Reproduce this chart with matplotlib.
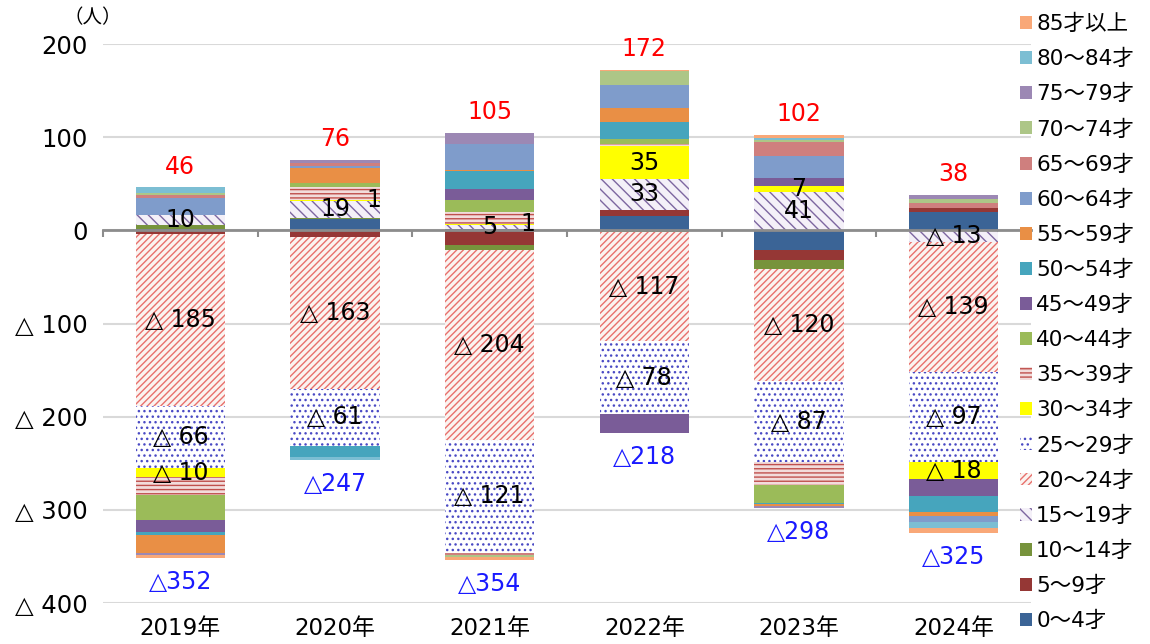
import matplotlib
matplotlib.use("Agg")
import matplotlib.pyplot as plt
import numpy as np

plt.rcParams['font.family'] = ['DejaVu Sans', 'Noto Sans CJK JP']
plt.rcParams['hatch.linewidth'] = 1.0

years = ["2019年", "2020年", "2021年", "2022年", "2023年", "2024年"]
ages = ["0～4才", "5～9才", "10～14才", "15～19才", "20～24才", "25～29才",
        "30～34才", "35～39才", "40～44才", "45～49才", "50～54才", "55～59才",
        "60～64才", "65～69才", "70～74才", "75～79才", "80～84才", "85才以上"]

# net change by age group (negative = decrease), per year
age_0_4 = [1, 12, 1, 15, -21, 20]
age_5_9 = [-4, -7, -16, 7, -11, 4]
age_10_14 = [5, 1, -5, -2, -10, 0]
age_15_19 = [10, 19, 5, 33, 41, -13]
age_20_24 = [-185, -163, -204, -117, -120, -139]
age_25_29 = [-66, -61, -121, -78, -87, -97]
age_30_34 = [-10, 1, 1, 35, 7, -18]
age_35_39 = [-19, 13, 13, 3, -24, 0]
age_40_44 = [-27, 5, 13, 5, -20, 0]
age_45_49 = [-13, 0, 11, -21, 8, -18]
age_50_54 = [-3, -12, 20, 18, -1, -17]
age_55_59 = [-19, 16, 1, 15, -2, -5]
age_60_64 = [19, 2, 28, 25, 24, -6]
age_65_69 = [3, 3, -3, 0, 15, 5]
age_70_74 = [2, 0, -2, 15, 2, 5]
age_75_79 = [-2, 3, 11, 0, -2, 4]
age_80_84 = [6, -4, 1, 0, 2, -6]
age_85_up = [-4, 1, -3, 1, 3, -6]

series = [age_0_4, age_5_9, age_10_14, age_15_19, age_20_24, age_25_29,
          age_30_34, age_35_39, age_40_44, age_45_49, age_50_54, age_55_59,
          age_60_64, age_65_69, age_70_74, age_75_79, age_80_84, age_85_up]

# (face, edge/hatch colour, hatch)
styles = [
    ("#3b6496", "#3b6496", None),
    ("#953735", "#953735", None),
    ("#77933c", "#77933c", None),
    ("#f4f0f8", "#7d66a0", "\\\\\\"),
    ("#fbf3f0", "#e8706c", "/////"),
    ("#ffffff", "#4a4ac4", "..."),
    ("#ffff00", "#ffff00", None),
    ("#f2dcdb", "#c0504d", "----"),
    ("#9bbb59", "#9bbb59", None),
    ("#7a5c98", "#7a5c98", None),
    ("#46a5bd", "#46a5bd", None),
    ("#e98f45", "#e98f45", None),
    ("#7f9ccb", "#7f9ccb", None),
    ("#cf7f7e", "#cf7f7e", None),
    ("#adc687", "#adc687", None),
    ("#9c88b4", "#9c88b4", None),
    ("#7cbed3", "#7cbed3", None),
    ("#f9a878", "#f9a878", None),
]
labelled = {"15～19才", "20～24才", "25～29才", "30～34才"}


def tri(v):
    return f"△ {-v}" if v < 0 else f"{v}"


fig = plt.figure(figsize=(11.5, 6.44), dpi=100)
ax = fig.add_axes([103 / 1150, 1 - 603 / 644, 928 / 1150, (603 - 44) / 644])

x = np.arange(len(years))
width = 0.576
pos_base = np.zeros(len(years))
neg_base = np.zeros(len(years))
handles = []
for name, vals, (fc, ec, hatch) in zip(ages, series, styles):
    v = np.array(vals, dtype=float)
    bottom = np.where(v >= 0, pos_base, neg_base)
    bars = ax.bar(x, v, width, bottom=bottom, color=fc, edgecolor=ec,
                  hatch=hatch, linewidth=0, zorder=2)
    handles.append(bars)
    if name in labelled:
        for xi, vi, bi in zip(x, v, bottom):
            if vi == 0:
                continue
            dx = 0.25 if abs(vi) <= 2 else 0
            ax.text(xi + dx, bi + vi / 2, tri(int(vi)), ha="center",
                    va="center", fontsize=17, color="black", zorder=6)
    pos_base += np.where(v > 0, v, 0)
    neg_base += np.where(v < 0, v, 0)

for xi, p, n in zip(x, pos_base, neg_base):
    ax.annotate(f"{int(p)}", (xi, p), xytext=(0, 15), textcoords="offset points",
                ha="center", va="center", fontsize=17, color="#ff0000")
    ax.annotate(f"△{int(-n)}", (xi, n), xytext=(0, -17), textcoords="offset points",
                ha="center", va="center", fontsize=17, color="#1a1aff")

ax.set_xlim(-0.5, len(years) - 0.5)
ax.set_ylim(-400, 200)
yt = np.arange(-400, 201, 100)
ax.set_yticks(yt)
ax.set_yticklabels([tri(int(t)) for t in yt])
ax.tick_params(axis="y", length=0, pad=11, labelsize=17.5)
ax.yaxis.grid(True, color="#d9d9d9", linewidth=1.5)
ax.set_axisbelow(True)

for s in ["left", "right", "top"]:
    ax.spines[s].set_visible(False)
ax.spines["bottom"].set_position(("data", 0))
ax.spines["bottom"].set_color("#8c8c8c")
ax.spines["bottom"].set_linewidth(2)
ax.spines["bottom"].set_zorder(5)
ax.set_xticks([])
ax.set_xticks(np.arange(-0.5, len(years)), minor=True)
ax.tick_params(axis="x", which="minor", length=5, width=1.5, color="#8c8c8c",
               direction="out")

sec = ax.secondary_xaxis("bottom")
sec.set_xticks(x)
sec.set_xticklabels(years)
sec.tick_params(length=0, pad=10, labelsize=16.5)
sec.spines["bottom"].set_visible(False)

fig.text(93 / 1150, 1 - 18 / 644, "（人）", ha="center", va="center", fontsize=14)

fig.legend(handles[::-1], ages[::-1], loc="upper left",
           bbox_to_anchor=(1020 / 1150, 1 - 14 / 644), frameon=False,
           fontsize=15.5, handlelength=0.55, handleheight=0.55, handletextpad=0.2,
           labelspacing=0.69, borderpad=0, borderaxespad=0)

fig.savefig("out.png", dpi=100)
